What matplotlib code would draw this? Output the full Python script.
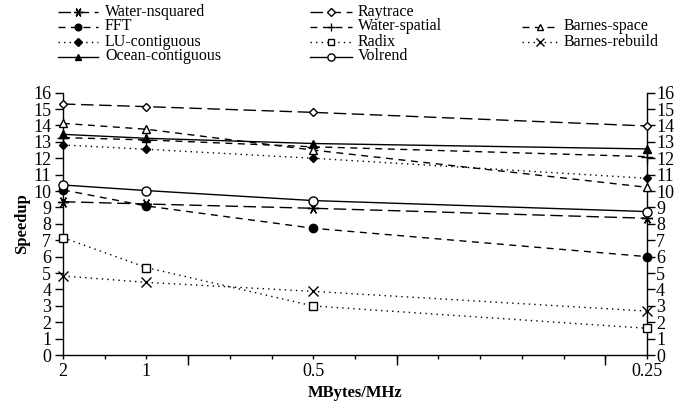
import matplotlib
matplotlib.use("Agg")
import matplotlib.pyplot as plt
from matplotlib.lines import Line2D
import numpy as np

plt.rcParams['font.family'] = ['Liberation Serif', 'DejaVu Serif']

mbytes_per_mhz = [2, 1, 0.5, 0.25]
tick_labels = ["2", "1", "0.5", "0.25"]

water_nsquared = [9.35, 9.21, 8.95, 8.34]
fft = [10.07, 9.09, 7.73, 6.0]
lu_contiguous = [12.81, 12.55, 12.0, 10.78]
ocean_contiguous = [13.46, 13.22, 12.9, 12.57]
raytrace = [15.31, 15.15, 14.8, 13.97]
water_spatial = [13.26, 13.12, 12.7, 12.1]
radix = [7.16, 5.33, 2.99, 1.63]
volrend = [10.37, 10.03, 9.42, 8.75]
barnes_space = [14.13, 13.77, 12.5, 10.23]
barnes_rebuild = [4.82, 4.43, 3.88, 2.68]

W, H = 674, 409
fig = plt.figure(figsize=(W/100, H/100), dpi=100)
ax = fig.add_axes([63/W, 1-355/H, (647-63)/W, (355-92.7)/H])

xpos = [1.0/v for v in mbytes_per_mhz]

longdash = (0, (9, 4))
meddash = (0, (5, 4))
dotted = (0, (1, 3))

series = [
    ("Water-nsquared", water_nsquared, dict(ls=longdash, marker=(6, 2, 90), ms=8, mfc='black')),
    ("FFT", fft, dict(ls=meddash, marker='o', ms=6, mfc='black')),
    ("LU-contiguous", lu_contiguous, dict(ls=dotted, marker='D', ms=4.5, mfc='black')),
    ("Ocean-contiguous", ocean_contiguous, dict(ls='-', marker='^', ms=6, mfc='black')),
    ("Raytrace", raytrace, dict(ls=longdash, marker='D', ms=4.5, mfc='white')),
    ("Water-spatial", water_spatial, dict(ls=meddash, marker='+', ms=8, mfc='black')),
    ("Radix", radix, dict(ls=dotted, marker='s', ms=6, mfc='white')),
    ("Volrend", volrend, dict(ls='-', marker='o', ms=6.5, mfc='white')),
    ("Barnes-space", barnes_space, dict(ls=meddash, marker='^', ms=6, mfc='white')),
    ("Barnes-rebuild", barnes_rebuild, dict(ls=dotted, marker='x', ms=7, mfc='black')),
]
style = {name: st for name, _, st in series}

for name, vals, st in series:
    ax.plot(xpos, vals, color='black', lw=1.0, ls=st['ls'], marker=st['marker'],
            ms=st['ms'], mfc=st['mfc'], mec='black', mew=1.0, label=name, clip_on=False,
            zorder=3)

ax.set_xlim(0.5, 4.0)
ax.set_ylim(0, 16)

ax.set_xticks(xpos)
ax.set_xticklabels(tick_labels)
ax.set_xticks(np.arange(0.5, 4.01, 0.25), minor=True)
ax.tick_params(axis='x', which='both', direction='out', length=3, width=1, labelsize=13, pad=3)

sec = ax.secondary_xaxis('bottom')
sec.set_xticks([1.25, 2.5, 3.75])
sec.set_xticklabels(['', '', ''])
sec.tick_params(axis='x', direction='out', length=7.5, width=1)
sec.spines['bottom'].set_visible(False)

ax.set_yticks(range(0, 17))
ax.tick_params(axis='y', which='both', direction='out', length=6, width=1,
               left=True, right=False, labelleft=True, labelright=False, labelsize=13, pad=2.5)
secy = ax.secondary_yaxis('right')
secy.set_yticks(range(0, 17))
secy.tick_params(axis='y', direction='out', length=6, width=1, labelsize=13, pad=0.5)
secy.spines['right'].set_linewidth(1.0)

ax.spines['top'].set_visible(False)
ax.spines['right'].set_visible(False)
for s in ['left', 'bottom']:
    ax.spines[s].set_linewidth(1.0)

ax.set_ylabel("Speedup", fontweight='bold', fontsize=12)
ax.yaxis.set_label_coords((22 - 63) / 584, 0.5)
ax.set_xlabel("MBytes/MHz", fontweight='bold', fontsize=12)
ax.xaxis.set_label_coords(0.5, -(393 - 355) / 262.3)
ax.xaxis.label.set_va('center')
ax.yaxis.label.set_va('center')

# manual legend (figure pixel coordinates)
rows = [11.5, 26.5, 41.5, 56.5]
columns = [
    (58, 98, 105, ["Water-nsquared", "FFT", "LU-contiguous", "Ocean-contiguous"], [0, 1, 2, 3]),
    (310, 352, 358, ["Raytrace", "Water-spatial", "Radix", "Volrend"], [0, 1, 2, 3]),
    (522, 558, 564, ["Barnes-space", "Barnes-rebuild"], [1, 2]),
]
for x0, x1, xt, names, ridx in columns:
    for name, r in zip(names, ridx):
        st = style[name]
        y = 1 - rows[r] / H
        xs = [x0 / W, (x0 + x1) / 2 / W, x1 / W]
        ln = Line2D(xs, [y, y, y], transform=fig.transFigure, color='black', lw=1.0,
                    ls=st['ls'], marker=st['marker'], ms=st['ms'] * 0.8, mfc=st['mfc'],
                    mec='black', mew=1.0, markevery=[1])
        fig.add_artist(ln)
        fig.text(xt / W, y, name, fontsize=11.5, va='center', ha='left')

fig.savefig("out.png", dpi=100)
